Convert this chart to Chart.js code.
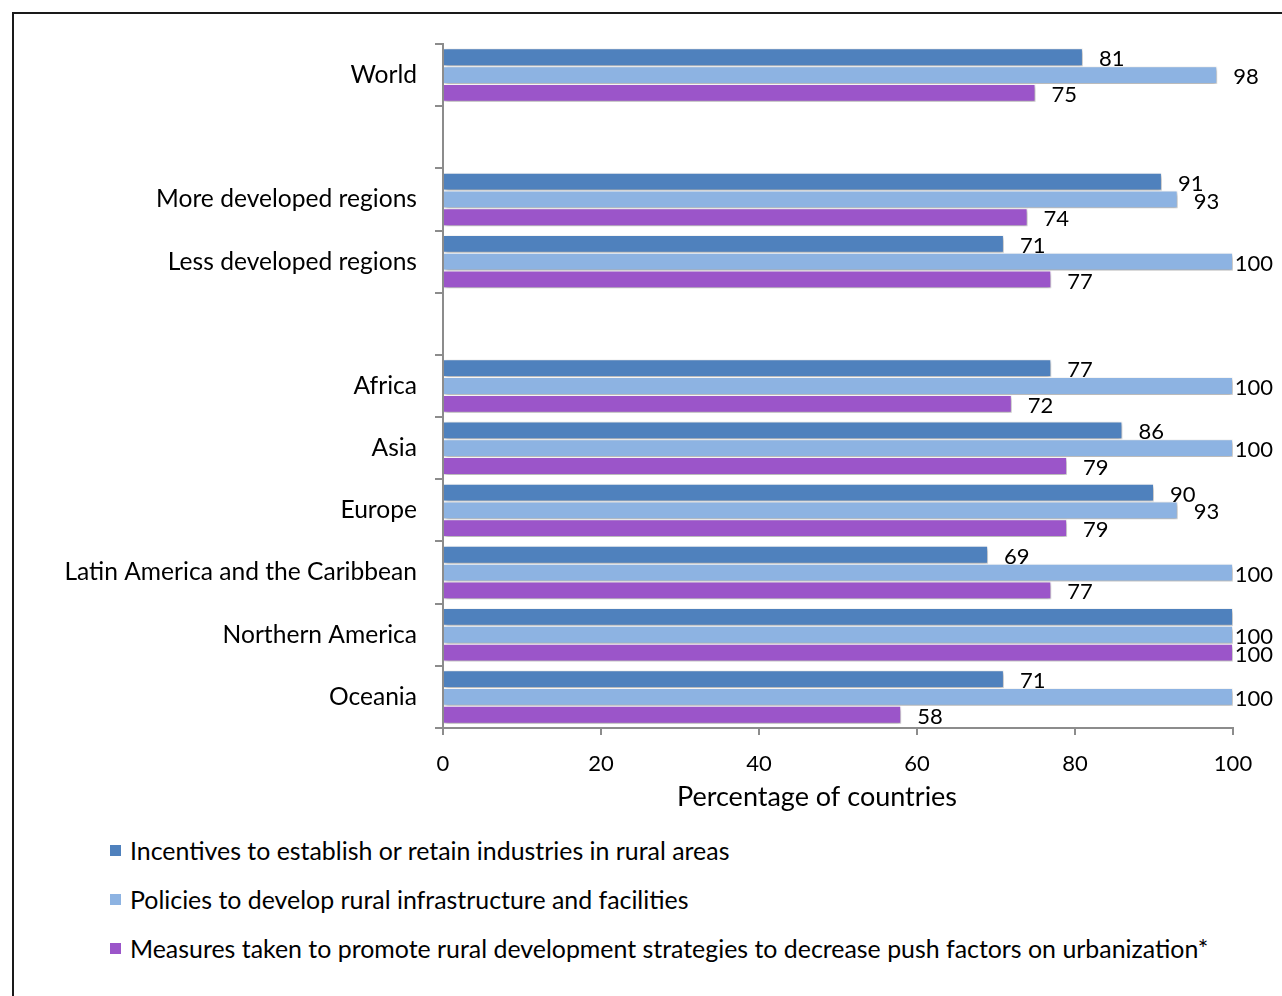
<!DOCTYPE html>
<html>
<head>
<meta charset="utf-8">
<script src="https://cdn.jsdelivr.net/npm/chart.js@4.4.1/dist/chart.umd.min.js"></script>
<style>
	body { margin: 0; background: #fff; font-family: Lato, sans-serif; }
	#frame { position: absolute; left: 12px; top: 12px; width: 1300px; height: 1000px; border-left: 2px solid #1a1a1a; border-top: 2px solid #1a1a1a; }
	#chart { position: absolute; left: 0; top: 0; }
	.item { position: absolute; left: 110px; height: 30px; line-height: 30px; font-size: 24.9px; color: #000; white-space: nowrap; padding-left: 20px; }
	.item .box { position: absolute; left: 0; top: 10px; width: 11px; height: 11px; }
</style>
</head>
<body>
<div id="frame"></div>
<canvas id="chart" width="1282" height="830"></canvas>
<div id="legend"></div>
<script>
const categories = ['World', '', 'More developed regions', 'Less developed regions', '', 'Africa', 'Asia', 'Europe', 'Latin America and the Caribbean', 'Northern America', 'Oceania'];
const incentives = [81, null, 91, 71, null, 77, 86, 90, 69, 100, 71];
const infrastructure = [98, null, 93, 100, null, 100, 100, 93, 100, 100, 100];
const measures = [75, null, 74, 77, null, 72, 79, 79, 77, 100, 58];
const xTicks = [0, 20, 40, 60, 80, 100];
const seriesNames = [
	'Incentives to establish or retain industries in rural areas',
	'Policies to develop rural infrastructure and facilities',
	'Measures taken to promote rural development strategies to decrease push factors on urbanization*'
];
const seriesColors = ['#4f81bd', '#8db3e2', '#9b55c9'];
// label missing in the original for Northern America, first series
const hiddenLabels = ['0-9'];
const axisTitle = 'Percentage of countries';

const font = 'Lato';
const axisGrey = '#8c8c8c';

const barShadow = {
	id: 'barShadow',
	beforeDatasetsDraw(chart) {
		let c = chart.ctx;
		c.save();
		c.shadowColor = 'rgba(0,0,0,0.35)';
		c.shadowBlur = 4;
		c.shadowOffsetX = 1;
		c.shadowOffsetY = 2;
	},
	afterDatasetsDraw(chart) {
		chart.ctx.restore();
	}
};

const valueLabels = {
	id: 'valueLabels',
	afterDatasetsDraw(chart) {
		let c = chart.ctx;
		c.save();
		c.font = '22px ' + font;
		c.fillStyle = '#000';
		c.textBaseline = 'middle';
		c.textAlign = 'left';
		chart.data.datasets.forEach((ds, i) => {
			chart.getDatasetMeta(i).data.forEach((bar, j) => {
				let v = ds.data[j];
				if (v === null || hiddenLabels.indexOf(i + '-' + j) !== -1) {
					return;
				}
				let text = String(v);
				let w = c.measureText(text).width;
				let x = Math.min(bar.x + 16, chart.width - 9 - w);
				c.fillText(text, x, bar.y + 2);
			});
		});
		c.restore();
	}
};

const xTitle = {
	id: 'xTitle',
	afterDraw(chart) {
		let c = chart.ctx;
		c.save();
		c.font = '27px ' + font;
		c.fillStyle = '#000';
		c.textAlign = 'center';
		c.textBaseline = 'middle';
		c.fillText(axisTitle, 817, 797);
		c.restore();
	}
};

new Chart(document.getElementById('chart'), {
	type: 'bar',
	data: {
		labels: categories,
		datasets: [incentives, infrastructure, measures].map((data, i) => ({
			label: seriesNames[i],
			data: data,
			backgroundColor: seriesColors[i],
			borderColor: '#ffffff',
			borderWidth: 1,
			barPercentage: 1,
			categoryPercentage: 0.86,
		})),
	},
	options: {
		indexAxis: 'y',
		responsive: false,
		animation: false,
		layout: { padding: { top: 44, right: 49, left: 0, bottom: 0 } },
		plugins: {
			legend: { display: false },
			tooltip: { enabled: false },
		},
		scales: {
			x: {
				min: 0,
				max: 100,
				afterFit(scale) { scale.height = 102; },
				afterBuildTicks(scale) { scale.ticks = xTicks.map(v => ({ value: v })); },
				ticks: { font: { family: font, size: 22 }, color: '#000', padding: 16 },
				grid: { drawOnChartArea: false, tickLength: 7, color: axisGrey, lineWidth: 2 },
				border: { color: axisGrey, width: 2 },
			},
			y: {
				afterFit(scale) { scale.width = 443; },
				ticks: { font: { family: font, size: 24.6 }, color: '#000', padding: 18 },
				grid: { offset: true, drawOnChartArea: false, tickLength: 8, color: axisGrey, lineWidth: 2 },
				border: { color: axisGrey, width: 2 },
			},
		},
	},
	plugins: [barShadow, valueLabels, xTitle],
});

const legendCenters = [850, 899, 948];
let legend = document.getElementById('legend');
seriesNames.forEach((name, i) => {
	let item = document.createElement('div');
	item.className = 'item';
	item.style.top = (legendCenters[i] - 15) + 'px';
	let box = document.createElement('span');
	box.className = 'box';
	box.style.background = seriesColors[i];
	item.appendChild(box);
	item.appendChild(document.createTextNode(name));
	legend.appendChild(item);
});
</script>
</body>
</html>
